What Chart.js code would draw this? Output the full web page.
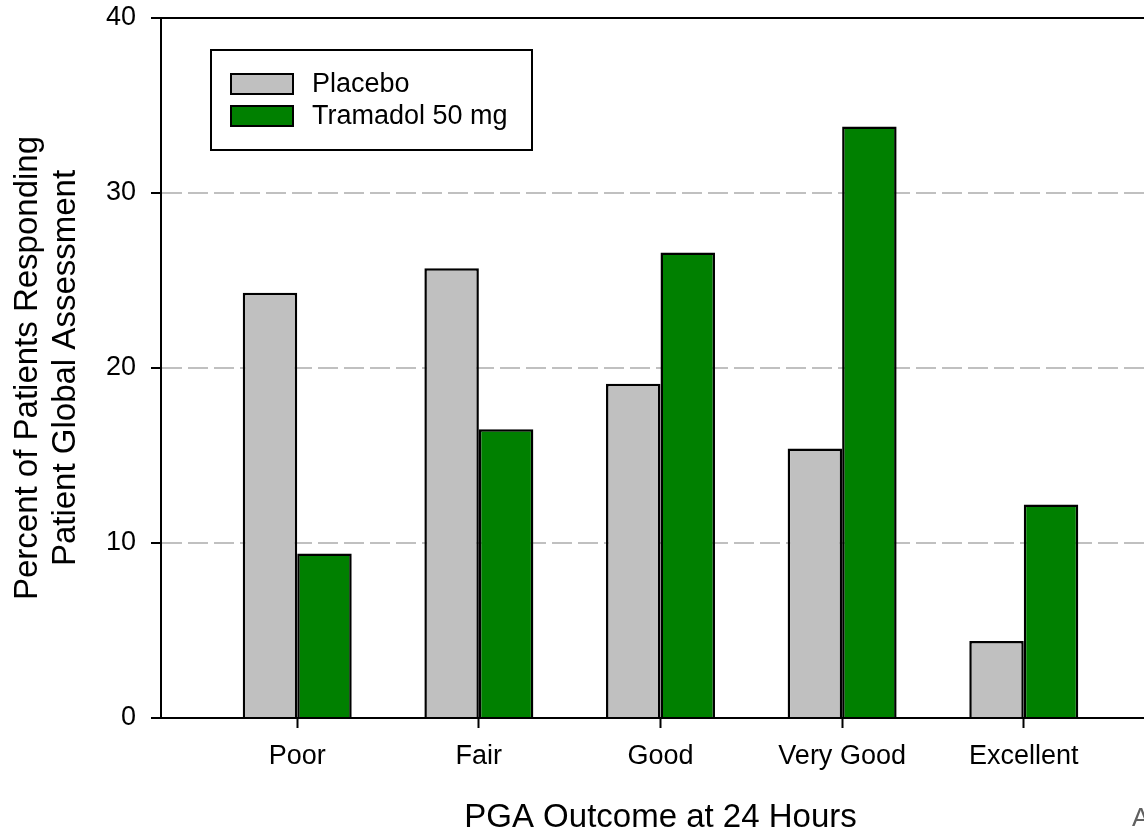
<!DOCTYPE html>
<html>
<head>
<meta charset="utf-8">
<script src="https://cdn.jsdelivr.net/npm/chart.js@4/dist/chart.umd.min.js"></script>
<style>
html, body { margin: 0; padding: 0; background: #fff; width: 1144px; height: 831px; overflow: hidden; }
#wrap { position: absolute; left: 0; top: 0; width: 1180px; height: 831px; }
#corner { position: absolute; left: 1132px; top: 804px; font: 26px "Liberation Sans", Arial, sans-serif; line-height: 26px; color: #606060; }
</style>
</head>
<body>
<div id="wrap"><canvas id="c" width="1180" height="831" style="width:1180px;height:831px"></canvas></div>
<div id="corner">A</div>
<script>
const categories = ['Poor', 'Fair', 'Good', 'Very Good', 'Excellent'];
const placebo = [24.3, 25.7, 19.1, 15.4, 4.4];
const tramadol = [9.4, 16.5, 26.6, 33.8, 12.2];
const yTicks = [0, 10, 20, 30, 40];
const seriesLabels = ['Placebo', 'Tramadol 50 mg'];
const seriesColors = ['#c0c0c0', '#008000'];

const FONT = '"Liberation Sans", Arial, sans-serif';

const framePlugin = {
  id: 'frameAndLegend',
  afterDraw(chart) {
    const ctx = chart.ctx;
    const a = chart.chartArea;
    ctx.save();
    // top frame line
    ctx.strokeStyle = '#000';
    ctx.lineWidth = 2;
    ctx.beginPath();
    ctx.moveTo(a.left - 1, a.top);
    ctx.lineTo(a.right, a.top);
    ctx.stroke();
    // legend box
    const bx = a.left + 50, by = a.top + 32, bw = 321, bh = 100;
    ctx.lineWidth = 2;
    ctx.strokeStyle = '#000';
    ctx.strokeRect(bx, by, bw, bh);
    ctx.font = '27px ' + FONT;
    ctx.textBaseline = 'middle';
    ctx.textAlign = 'left';
    chart.data.datasets.forEach((ds, i) => {
      const sy = by + 24 + i * 32;
      ctx.fillStyle = ds.backgroundColor;
      ctx.fillRect(bx + 20, sy, 62, 20);
      ctx.lineWidth = 2;
      ctx.strokeStyle = '#000';
      ctx.strokeRect(bx + 20, sy, 62, 20);
      ctx.fillStyle = '#000';
      ctx.fillText(ds.label, bx + 101, sy + 11);
    });
    ctx.restore();
  }
};

const datasets = [placebo, tramadol].map((vals, s) => ({
  label: seriesLabels[s],
  data: categories.map((c, i) => ({ x: i + 1, y: vals[i] })),
  backgroundColor: seriesColors[s],
  borderColor: '#000',
  borderWidth: 2.5,
  barPercentage: 1,
  categoryPercentage: 0.6
}));

new Chart(document.getElementById('c'), {
  type: 'bar',
  data: { datasets },
  plugins: [framePlugin],
  options: {
    responsive: false,
    animation: false,
    layout: { padding: { left: 0, right: 20, top: 18, bottom: 0 } },
    plugins: { legend: { display: false }, tooltip: { enabled: false } },
    scales: {
      x: {
        type: 'linear',
        position: 'bottom',
        min: 0.25,
        max: 5.75,
        offset: false,
        afterBuildTicks: (s) => { s.ticks = categories.map((_, i) => ({ value: i + 1 })); },
        afterFit: (s) => { s.height = 113; s.paddingLeft = 0; s.paddingRight = 0; },
        grid: { display: true, offset: false, drawOnChartArea: false, drawTicks: true, tickLength: 10, tickColor: '#000', tickWidth: 2, color: '#000' },
        border: { display: true, color: '#000', width: 2 },
        ticks: {
          autoSkip: false, maxRotation: 0, color: '#000', padding: 12,
          font: { size: 27, family: FONT },
          callback: (v) => categories[Math.round(v) - 1] || ''
        },
        title: { display: true, text: 'PGA Outcome at 24 Hours', color: '#000', font: { size: 33, family: FONT, lineHeight: 1 }, padding: { top: 0, bottom: -3 } }
      },
      y: {
        min: 0,
        max: 40,
        afterBuildTicks: (s) => { s.ticks = yTicks.map(v => ({ value: v })); },
        afterFit: (s) => { s.width = 161; s.paddingTop = 0; s.paddingBottom = 0; },
        grid: {
          color: (ctx) => (ctx.tick && (ctx.tick.value === 0 || ctx.tick.value === 40)) ? 'rgba(0,0,0,0)' : '#c0c0c0',
          lineWidth: 2,
          tickLength: 10, tickColor: '#000', tickWidth: 2, drawTicks: true
        },
        border: { display: true, color: '#000', width: 2, dash: [20, 6] },
        ticks: { color: '#000', padding: 15, font: { size: 27, family: FONT } },
        title: {
          display: true,
          text: ['Percent of Patients Responding', 'Patient Global Assessment'],
          color: '#000',
          font: { size: 33, family: FONT, lineHeight: 1.15 },
          padding: { top: 9, bottom: 0 }
        }
      }
    }
  }
});
</script>
</body>
</html>
